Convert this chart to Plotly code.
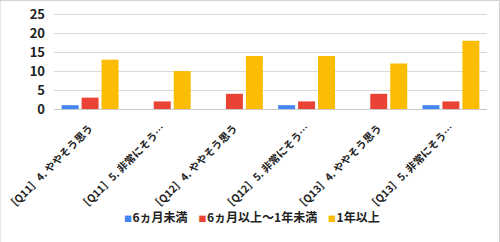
import plotly.graph_objects as go

categories = ["［Q11］4. ややそう思う", "［Q11］5. 非常にそう…", "［Q12］4. ややそう思う",
              "［Q12］5. 非常にそう…", "［Q13］4. ややそう思う", "［Q13］5. 非常にそう…"]
series_names = ["6ヵ月未満", "6ヵ月以上～1年未満", "1年以上"]
under6m = [1, 0, 0, 1, 0, 1]
m6to1y = [3, 2, 4, 2, 4, 2]
over1y = [13, 10, 14, 14, 12, 18]
colors = ["#4285F4", "#EA4335", "#FBBC04"]
y_ticks = [0, 5, 10, 15, 20, 25]

fig = go.Figure()
for name, vals, col in zip(series_names, [under6m, m6to1y, over1y], colors):
    fig.add_trace(go.Bar(x=categories, y=vals, name=name, marker_color=col,
                         marker_line_width=0, showlegend=False))

legend_text = "&nbsp;&nbsp;&nbsp;&nbsp;".join(
    f"<span style='color:{c};font-size:8px'>■&#8202;</span>{n}" for n, c in zip(series_names, colors))

FONT = "Noto Sans CJK JP, Arial, sans-serif"
fig.update_layout(
    width=500, height=242,
    margin=dict(l=54, r=13, t=13, b=133, autoexpand=False),
    paper_bgcolor="white", plot_bgcolor="white",
    barmode="group", bargap=0.17, bargroupgap=0.15,
    font=dict(family=FONT, size=12, color="#222222"),
    showlegend=False,
    xaxis=dict(tickangle=-45, tickfont=dict(size=10.5, color="#222222", weight="bold"),
               showgrid=False, ticks="", showline=False, automargin=False,
               ticklabelstandoff=10),
    yaxis=dict(range=[0, 25.3], tickvals=y_ticks, showgrid=True, gridcolor="#d9d9d9",
               gridwidth=1, zeroline=True, zerolinecolor="#c8c8c8", zerolinewidth=1,
               tickfont=dict(size=13, color="#222222", weight="bold"), ticks="",
               ticklabelstandoff=8, automargin=False),
    annotations=[dict(xref="paper", yref="paper", x=(252 - 54) / 433, y=-(215 - 108.5) / 95.5,
                      xanchor="center", yanchor="middle", showarrow=False,
                      text=legend_text, font=dict(size=12, color="#222222", weight="bold"))],
    shapes=[dict(type="rect", xref="paper", yref="paper",
                 x0=-54/433, x1=1 + 12.5/433, y0=-133/95.5, y1=1 + 12.5/95.5,
                 line=dict(color="#d0d0d0", width=1), fillcolor="rgba(0,0,0,0)",
                 layer="below")],
)
fig.write_html("out.html")
